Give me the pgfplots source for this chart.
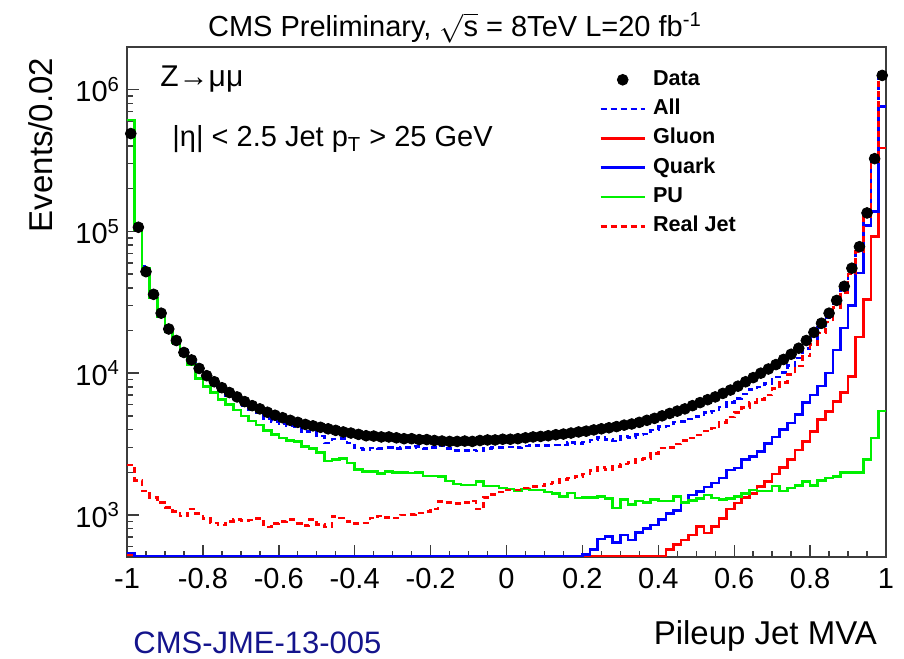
\documentclass[border=0pt]{standalone}
\usepackage{pgfplots}
\pgfplotsset{compat=1.18}
\usepackage{pgfplotstable}
\usepackage{fontspec}
\setmainfont{Liberation Sans}
\definecolor{rootred}{RGB}{255,0,0}
\definecolor{rootblue}{RGB}{0,0,255}
\definecolor{rootgreen}{RGB}{0,240,0}
\definecolor{cmsnavy}{RGB}{20,20,140}
\definecolor{framegray}{RGB}{60,60,60}

\pgfplotstableread{
x pu real all quark gluon
-1.00 610000 2250 612000 540 520
-0.98 103000 1750 112000 507 507
-0.96 55000 1480 56500 507 507
-0.94 34000 1330 35300 507 507
-0.92 25000 1220 26200 507 507
-0.90 19700 1130 20800 507 507
-0.88 16300 1060 17400 507 507
-0.86 13500 980 14500 507 507
-0.84 11500 1100 12600 507 507
-0.82 9200 1020 10200 507 507
-0.80 8050 940 8990 507 507
-0.78 7300 880 8180 507 507
-0.76 6500 850 7350 507 507
-0.74 6000 900 6900 507 507
-0.72 5500 925 6425 507 507
-0.70 5000 915 5915 507 507
-0.68 4600 920 5520 507 507
-0.66 4300 940 5240 507 507
-0.64 3950 820 4770 507 507
-0.62 3700 870 4570 507 507
-0.60 3500 900 4400 507 507
-0.58 3350 925 4275 507 507
-0.56 3300 870 4170 507 507
-0.54 3050 845 3895 507 507
-0.52 2950 925 3875 507 507
-0.50 2750 860 3610 507 507
-0.48 2400 820 3220 507 507
-0.46 2450 975 3425 507 507
-0.44 2500 950 3450 507 507
-0.42 2320 900 3220 507 507
-0.40 2100 870 2970 507 507
-0.38 2020 880 2900 507 507
-0.36 2020 950 2970 507 507
-0.34 1970 985 2955 507 507
-0.32 2020 960 2980 507 507
-0.30 2000 950 2950 507 507
-0.28 2000 1000 3000 507 507
-0.26 1980 1010 2990 507 507
-0.24 2000 1030 3030 507 507
-0.22 1880 1060 2940 507 507
-0.20 1880 1100 2980 507 507
-0.18 1860 1240 3100 507 507
-0.16 1730 1220 2950 507 507
-0.14 1650 1200 2850 507 507
-0.12 1630 1220 2850 507 507
-0.10 1630 1250 2880 507 507
-0.08 1720 1100 2820 507 507
-0.06 1600 1330 2930 507 507
-0.04 1600 1400 3000 507 507
-0.02 1550 1450 3000 507 507
0.00 1520 1500 3020 507 507
0.02 1480 1500 2980 507 507
0.04 1520 1550 3070 507 507
0.06 1500 1580 3080 507 507
0.08 1500 1600 3100 507 507
0.10 1450 1650 3100 507 507
0.12 1420 1700 3120 507 507
0.14 1350 1770 3120 507 507
0.16 1430 1820 3250 507 507
0.18 1320 1870 3190 507 507
0.20 1330 1950 3280 525 507
0.22 1330 2050 3380 568 507
0.24 1350 2170 3520 675 507
0.26 1300 2100 3400 705 507
0.28 1120 2200 3320 638 507
0.30 1280 2290 3570 724 507
0.32 1180 2350 3530 667 507
0.34 1250 2450 3700 751 507
0.36 1220 2500 3720 806 507
0.38 1280 2700 3980 850 507
0.40 1250 2960 4210 933 507
0.42 1250 3000 4250 1020 568
0.44 1350 3170 4520 1070 616
0.46 1220 3350 4570 1210 667
0.48 1260 3500 4760 1380 724
0.50 1300 3670 4970 1460 826
0.52 1380 3900 5280 1570 744
0.54 1320 4100 5420 1680 826
0.56 1280 4500 5780 1820 948
0.58 1300 4900 6200 2080 1100
0.60 1350 5300 6650 2140 1210
0.62 1420 5700 7120 2450 1330
0.64 1500 6200 7700 2580 1420
0.66 1480 6500 7980 2800 1580
0.68 1480 7000 8480 3200 1720
0.70 1600 7800 9400 3550 1950
0.72 1480 8600 10080 4000 2170
0.74 1550 9800 11350 4450 2450
0.76 1620 11200 12820 5100 2880
0.78 1720 13200 14920 6200 3300
0.80 1620 16000 17620 7000 3880
0.82 1750 19200 20950 8100 4700
0.84 1820 23000 24820 10000 5370
0.86 1870 29000 30870 14600 6300
0.88 2000 37000 39000 20800 7300
0.90 2000 50000 52000 30000 9500
0.92 2000 72000 74000 51000 18000
0.94 2450 128000 130450 110000 33000
0.96 3500 310000 313500 138000 92000
0.98 5400 1250000 1255400 760000 387000
1.00 5400 1250000 1255400 760000 387000
}\hist

\pgfplotstableread{
x y
-0.99 490000
-0.97 107000
-0.95 52000
-0.93 36000
-0.91 26500
-0.89 20500
-0.87 17000
-0.85 14000
-0.83 12400
-0.81 10800
-0.79 9600
-0.77 8700
-0.75 7900
-0.73 7300
-0.71 6800
-0.69 6300
-0.67 5900
-0.65 5600
-0.63 5300
-0.61 5050
-0.59 4850
-0.57 4650
-0.55 4500
-0.53 4350
-0.51 4250
-0.49 4150
-0.47 4050
-0.45 3950
-0.43 3850
-0.41 3780
-0.39 3700
-0.37 3620
-0.35 3600
-0.33 3550
-0.31 3550
-0.29 3500
-0.27 3450
-0.25 3450
-0.23 3400
-0.21 3400
-0.19 3350
-0.17 3320
-0.15 3300
-0.13 3300
-0.11 3320
-0.09 3300
-0.07 3350
-0.05 3380
-0.03 3380
-0.01 3420
0.01 3420
0.03 3450
0.05 3500
0.07 3550
0.09 3580
0.11 3620
0.13 3680
0.15 3720
0.17 3780
0.19 3850
0.21 3900
0.23 3980
0.25 4050
0.27 4120
0.29 4200
0.31 4300
0.33 4380
0.35 4500
0.37 4650
0.39 4800
0.41 5000
0.43 5200
0.45 5400
0.47 5600
0.49 5900
0.51 6200
0.53 6500
0.55 6800
0.57 7200
0.59 7600
0.61 8100
0.63 8700
0.65 9300
0.67 10000
0.69 10700
0.71 11500
0.73 12500
0.75 13600
0.77 15000
0.79 17000
0.81 19400
0.83 22500
0.85 26500
0.87 32600
0.89 41000
0.91 55000
0.93 78000
0.95 135000
0.97 326000
0.99 1260000
}\data

\begin{document}
\begin{tikzpicture}
\useasboundingbox (-63.5pt,-50.5pt) rectangle (388.5pt,278.5pt);
\begin{axis}[
  at={(0pt,0pt)}, anchor=south west,
  scale only axis, width=379.5pt, height=255pt,
  xmin=-1, xmax=1, ymode=log, ymin=505, ymax=2.0e6,
  axis line style={framegray, line width=0.9pt},
  every tick/.style={framegray, line width=0.7pt},
  tick align=inside, xtick pos=left, ytick pos=left,
  xtick={-1,-0.8,-0.6,-0.4,-0.2,0,0.2,0.4,0.6,0.8,1},
  xticklabels={-1,-0.8,-0.6,-0.4,-0.2,0,0.2,0.4,0.6,0.8,1},
  minor x tick num=3,
  ytick={1000,10000,100000,1000000},
  yticklabels={10\textsuperscript{3},10\textsuperscript{4},10\textsuperscript{5},10\textsuperscript{6}},
  minor ytick={600,700,800,900,2000,3000,4000,5000,6000,7000,8000,9000,20000,30000,40000,50000,60000,70000,80000,90000,200000,300000,400000,500000,600000,700000,800000,900000},
  major tick length=6pt, minor tick length=3pt,
  ticklabel style={font=\fontsize{14.5}{16}\selectfont},
  xticklabel style={yshift=-2pt},
  legend style={at={(axis description cs:0.6219,0.96)}, anchor=north west,
    draw=none, fill=none, inner sep=0pt, row sep=2.65pt, column sep=2.5pt,
    font=\bfseries\fontsize{10.8}{12}\selectfont,
    nodes={inner sep=1pt, text height=7.8pt, text depth=2.2pt}},
  legend cell align=left,
]
\addlegendimage{legend image code/.code={\fill[black] (11pt,0pt) circle (2.7pt);}}
\addlegendentry{Data}
\addlegendimage{legend image code/.code={\draw[rootblue,line width=1.3pt,dash pattern=on 3pt off 2pt] (0pt,0pt)--(22pt,0pt);}}
\addlegendentry{All}
\addlegendimage{legend image code/.code={\draw[rootred,line width=1.3pt] (0pt,0pt)--(22pt,0pt);}}
\addlegendentry{Gluon}
\addlegendimage{legend image code/.code={\draw[rootblue,line width=1.3pt] (0pt,0pt)--(22pt,0pt);}}
\addlegendentry{Quark}
\addlegendimage{legend image code/.code={\draw[rootgreen,line width=1.3pt] (0pt,0pt)--(22pt,0pt);}}
\addlegendentry{PU}
\addlegendimage{legend image code/.code={\draw[rootred,line width=1.3pt,dash pattern=on 3pt off 2pt] (0pt,0pt)--(22pt,0pt);}}
\addlegendentry{Real Jet}

\addplot[rootblue, line width=1.3pt, dash pattern=on 3pt off 2pt, const plot mark left, forget plot] table[x=x,y=all]{\hist};
\addplot[rootred, line width=1.3pt, const plot mark left, forget plot] table[x=x,y=gluon]{\hist};
\addplot[rootblue, line width=1.3pt, const plot mark left, forget plot] table[x=x,y=quark]{\hist};
\addplot[rootgreen, line width=1.3pt, const plot mark left, forget plot] table[x=x,y=pu]{\hist};
\addplot[rootred, line width=1.3pt, dash pattern=on 3pt off 2pt, const plot mark left, forget plot] table[x=x,y=real]{\hist};
\addplot[only marks, mark=*, mark size=2.7pt, black, forget plot] table[x=x,y=y]{\data};
\end{axis}
\node[anchor=base, font=\fontsize{14.5}{17}\selectfont, inner sep=0pt] at (164pt,260pt) {CMS Preliminary, $\sqrt{\mbox{s}}$ = 8TeV L=20 fb\textsuperscript{-1}};
\node[rotate=90, anchor=base, font=\fontsize{16.5}{18}\selectfont] at (-37.5pt,206pt) {Events/0.02};
\node[anchor=base east, font=\fontsize{16.5}{18}\selectfont] at (378.5pt,-43.5pt) {Pileup Jet MVA};
\node[anchor=base west, font=\fontsize{15.5}{18}\selectfont, text=cmsnavy, inner sep=0pt] at (3pt,-48pt) {CMS-JME-13-005};
\node[anchor=base west, font=\fontsize{15}{16}\selectfont, inner sep=0pt] at (16.5pt,235pt) {Z→μμ};
\node[anchor=base west, font=\fontsize{14.5}{16}\selectfont, inner sep=0pt] at (22.5pt,205pt) {|η| < 2.5 Jet p\textsubscript{T} > 25 GeV};
\end{tikzpicture}
\end{document}
